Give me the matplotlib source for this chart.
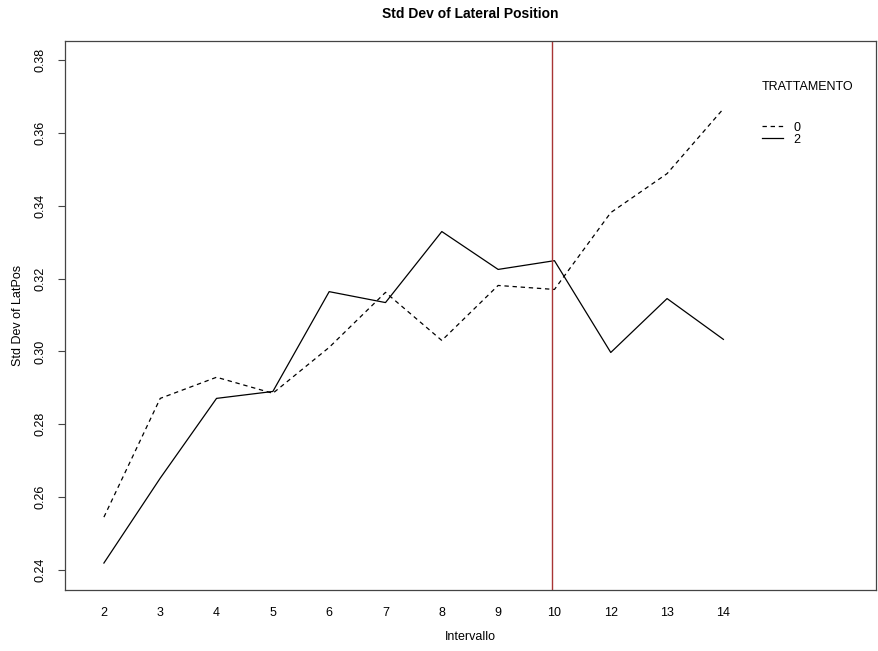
import matplotlib
matplotlib.use("Agg")
import matplotlib.pyplot as plt

plt.rcParams['font.family'] = ['Liberation Sans', 'DejaVu Sans']

intervals = ["2", "3", "4", "5", "6", "7", "8", "9", "10", "12", "13", "14"]
treat_0 = [0.2545, 0.2871, 0.2929, 0.2885, 0.3011, 0.3162, 0.3030, 0.3181, 0.3170, 0.3381, 0.3488, 0.3666]
treat_2 = [0.2419, 0.2652, 0.2871, 0.2890, 0.3164, 0.3134, 0.3329, 0.3225, 0.3249, 0.2997, 0.3145, 0.3033]
yticks = [0.24, 0.26, 0.28, 0.30, 0.32, 0.34, 0.36, 0.38]
vline_at = "10"

pos = list(range(1, len(intervals) + 1))

fig = plt.figure(figsize=(8.79, 6.51), dpi=100)
ax = fig.add_axes([0.074, 0.0937, 0.9226, 0.8433])

ax.plot(pos, treat_0, color='black', lw=0.9, linestyle=(0, (3.5, 3)), label='0')
ax.plot(pos, treat_2, color='black', lw=0.9, label='2')
ax.axvline(pos[intervals.index(vline_at)] - 0.04, color='#a83434', lw=1.0)

ax.set_xlim(0.31, 14.71)
ax.set_ylim(0.2345, 0.3852)
ax.set_xticks(pos)
ax.set_xticklabels(intervals, fontsize=9)
ax.tick_params(axis='x', length=0, pad=12)
ax.set_yticks(yticks)
ax.set_yticklabels(["%.2f" % v for v in yticks], fontsize=9, rotation=90, va='center')
ax.tick_params(axis='y', length=5, width=0.8, color='#444444', pad=8)

for s in ax.spines.values():
    s.set_color('#444444')
    s.set_linewidth(0.9)

# axis labels and title placed like R's interaction.plot output
fig.text(0.535, 0.022, "Intervallo", ha='center', va='center', fontsize=9)
fig.text(0.021, 0.516, "Std Dev of LatPos", ha='center', va='center', fontsize=9, rotation=90)
fig.text(0.535, 0.978, "Std Dev of Lateral Position", ha='center', va='center',
         fontsize=10, fontweight='bold')

fig.text(0.867, 0.866, "TRATTAMENTO", ha='left', va='center', fontsize=9)
ax.legend(loc='upper left', bbox_to_anchor=(0.853, 0.862),
          frameon=False, fontsize=9, handlelength=1.7, borderaxespad=0,
          handletextpad=0.8, labelspacing=0.0)

fig.savefig("out.png", dpi=100)
